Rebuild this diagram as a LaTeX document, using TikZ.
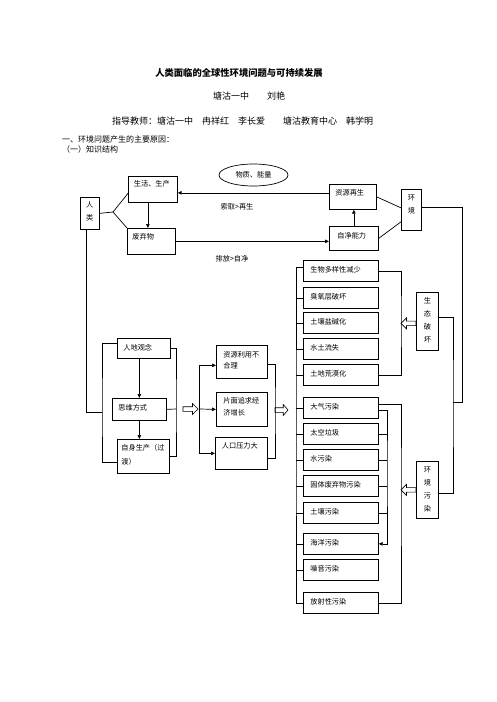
\documentclass[tikz,border=0pt]{standalone}
\usepackage{fontspec}
\setmainfont{Noto Sans CJK SC}
\usepackage{tikz}
\usetikzlibrary{shapes.geometric, arrows.meta, positioning, calc}

\begin{document}
\begin{tikzpicture}[
    x=1pt, y=-1pt,
    box/.style={draw, line width=.7pt, anchor=north west, inner ysep=3pt,
        text height=7.7pt, align=left, font=\fontsize{7.2}{11}\selectfont},
    vbox/.style={box, inner xsep=2pt, align=center, font=\fontsize{7.2}{13}\selectfont},
    item/.style={box, inner xsep=7pt, text width=61pt, text height=8.7pt, text depth=6.3pt},
    link/.style={line width=.7pt},
    hollow/.pic={\draw[line width=.6pt, line join=miter]
        (0,-2.3) -- (9.5,-2.3) -- (9.5,-5.5) -- (15,0) -- (9.5,5.5) -- (9.5,2.3) -- (0,2.3) -- cycle;},
    >={Triangle[length=4pt, width=3.5pt]}
]
\fill[white] (0,0) rectangle (496,702);

% --- heading ---
\node[font=\bfseries\fontsize{9.3}{11}\selectfont] (title) at (239,73) {人类面临的全球性环境问题与可持续发展};
\node[font=\fontsize{9}{11}\selectfont] (author) at (249,96) {塘沽一中　　刘艳};
\node[font=\fontsize{9}{11}\selectfont] (guide) at (242.5,121) {指导教师：塘沽一中　冉祥红　李长爱　　塘沽教育中心　韩学明};
\node[anchor=west, inner sep=0pt, font=\fontsize{8}{10}\selectfont] (sec1) at (62,139) {一、环境问题产生的主要原因：};
\node[anchor=west, inner sep=0pt, font=\fontsize{8}{10}\selectfont] (sec2) at (62,149) {（一）知识结构};

% --- human and environment cycle ---
\node[vbox, text width=15pt, text height=6.7pt, text depth=19.3pt] (human) at (80,197) {人\\类};
\node[box, inner xsep=5.5pt, text width=38pt, text height=7pt, text depth=13pt] (life) at (128,176) {生活、生产};
\node[box, inner xsep=5pt, text width=38pt, text depth=12.3pt] (waste) at (127,228) {废弃物};
\node[draw, ellipse, line width=.7pt, minimum width=69pt, minimum height=22pt, inner sep=0pt,
    font=\fontsize{7.2}{9}\selectfont] (matter) at (253.5,175) {物质、能量};
\node[box, inner xsep=6pt, text width=35pt, text depth=11.3pt] (regen) at (329,184) {资源再生};
\node[box, inner xsep=8pt, text width=33pt, text height=8.7pt, text depth=9.3pt] (clean) at (329,226) {自净能力};
\node[vbox, text width=16pt, text depth=27.3pt] (env) at (401,189) {环\\境};
\node[font=\fontsize{7.2}{9}\selectfont] (take) at (237,207) {索取>再生};
\node[font=\fontsize{7.2}{9}\selectfont] (emit) at (232,259) {排放>自净};

\coordinate (fork) at (113,212);
\draw[link] (human.east) -- (fork) -- ([yshift=-4pt]life.west);
\draw[link] (fork) -- (waste.north west);
\draw[link, ->] ([xshift=-5pt]life.south) -- ([xshift=-5pt]life.south |- waste.north);
\draw[link, ->] ([yshift=4pt]regen.west) -- ([yshift=4pt]regen.west -| life.east);
\draw[link, ->] (waste.east) -- (waste.east -| clean.west);
\draw[link, ->] (clean.north) -- (clean.north |- regen.south);
\draw[link] (regen.east) -- ([yshift=2pt]env.west);
\draw[link] (clean.east) -- ([yshift=-12pt]env.west);

% --- causes ---
\node[box, inner xsep=6pt, text width=41pt, text height=8.7pt, text depth=5.3pt] (view) at (117,338) {人地观念};
\node[box, inner xsep=6pt, text width=42pt, text height=8.7pt, text depth=7.3pt] (mind) at (112,398) {思维方式};
\node[box, inner xsep=4pt, text width=44pt, text depth=20.3pt, font=\fontsize{7.2}{14}\selectfont] (selfp) at (117,439) {自身生产（过\\渡）};
\node[box, inner xsep=7pt, text width=37pt, text height=8.7pt, text depth=18.3pt] (misuse) at (216,345) {资源利用不\\合理};
\node[box, inner xsep=7pt, text width=37pt, text depth=20.3pt, font=\fontsize{7.2}{12}\selectfont] (growth) at (216,392) {片面追求经\\济增长};
\node[box, inner xsep=6.5pt, text width=39pt, text depth=18.3pt] (pop) at (215,437) {人口压力大};

\coordinate (lb) at (102,412);
\coordinate (rb0) at (176,409);
\coordinate (mb) at (199,409);
\coordinate (rb3) at (275,410);
\draw[link] ([xshift=-3.5pt]human.south) |- (lb);
\draw[link] ([yshift=5pt]view.west) -| (lb) |- ([yshift=-6pt]selfp.west);
\draw[link, ->] (view.south -| mind.north) -- (mind.north);
\draw[link, ->] (mind.south) -- (mind.south |- selfp.north);
\draw[link] (view.east) -| (rb0) |- (selfp.east);
\draw[link] (mind.east) -- (rb0);
\pic at ([xshift=7pt]rb0) {hollow};
\draw[link, ->] (mb) |- ([yshift=-3.5pt]misuse.west);
\draw[link, ->] (mb) -- (growth.west);
\draw[link, ->] (mb) |- (pop.west);
\draw[link] ([yshift=-2.5pt]misuse.east) -| (rb3) |- ([yshift=-5pt]pop.east);

% --- problems ---
\node[item] (bio) at (303,260) {生物多样性减少};
\node[item] (ozone) at (303,287) {臭氧层破坏};
\node[item] (salt) at (303,312) {土壤盐碱化};
\node[item] (erosion) at (303,338) {水土流失};
\node[item] (desert) at (303,364) {土地荒漠化};
\node[item] (air) at (303,397) {大气污染};
\node[item] (space) at (303,423) {太空垃圾};
\node[item] (water) at (303,449) {水污染};
\node[item] (solid) at (303,475) {固体废弃物污染};
\node[item] (land) at (303,502) {土壤污染};
\node[item] (ocean) at (303,533) {海洋污染};
\node[item] (noise) at (303,559) {噪音污染};
\node[item] (radio) at (303,592) {放射性污染};

\node[vbox, text width=18pt, text depth=44.3pt] (eco) at (416,292) {生\\态\\破\\坏};
\node[vbox, text width=18pt, text depth=43.3pt, font=\fontsize{7.2}{13.3}\selectfont] (poll) at (416,461) {环\\境\\污\\染};

\coordinate (bus) at (296,430);
\coordinate (rb1) at (401,320);
\coordinate (rb2) at (401,490);
\coordinate (ib) at (387,470);
\coordinate (rj) at (462,402);
\coordinate (rjb) at (453,402);

\pic[xscale=13/15] at (rb3) {hollow};
\draw[link] ([yshift=4pt]bio.west) -| (bus) |- (radio.west);
\draw[link] (ozone.west) -- (ozone.west -| bus) (salt.west) -- (salt.west -| bus)
    (erosion.west) -- (erosion.west -| bus) (desert.west) -- (desert.west -| bus)
    (air.west) -- (air.west -| bus) (space.west) -- (space.west -| bus)
    (water.west) -- (water.west -| bus) (solid.west) -- (solid.west -| bus)
    (land.west) -- (land.west -| bus) (ocean.west) -- (ocean.west -| bus)
    (noise.west) -- (noise.west -| bus);

\draw[link] (bio.east) -| (rb1) |- (desert.east);
\pic[xscale=-1] at ([yshift=-2pt]eco.west) {hollow};
\draw[link] ([yshift=4pt]air.east) -| (rb2) |- (radio.east);
\pic[xscale=-1] at (poll.west) {hollow};
\draw[link, ->] ([yshift=-2.5pt]air.east) -| (ib) |- (ocean.east);
\draw[link] (space.east) -- (space.east -| ib) (water.east) -- (water.east -| ib)
    (solid.east) -- (solid.east -| ib) (land.east) -- (land.east -| ib);

\draw[link] ([yshift=2.5pt]env.east) -| (rj) -- (rjb);
\draw[link] ([yshift=4pt]eco.east) -| (rjb) |- ([yshift=-3.5pt]poll.east);

\end{tikzpicture}
\end{document}
